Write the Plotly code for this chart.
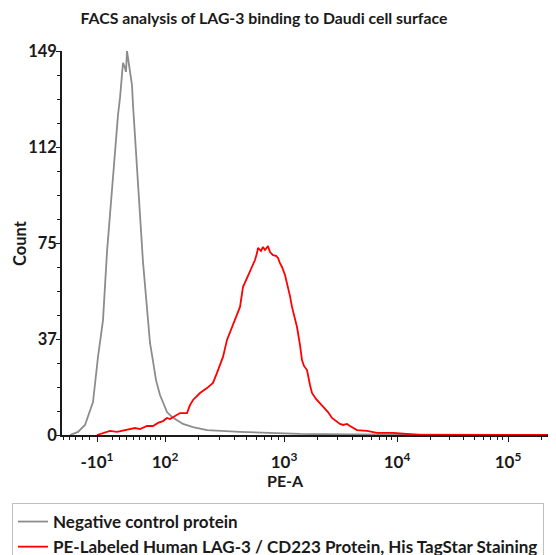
import numpy as np
import plotly.graph_objects as go

# ---- data (display channel on the biexponential PE-A scale, event count) ----
neg_channel = [16, 32, 46, 62, 72, 82, 90, 100, 106, 112, 116, 120, 122, 126, 128, 130,
               132, 134, 136, 140, 142, 146, 152, 156, 162, 168, 172, 176, 182, 188, 196,
               204, 210, 220, 230, 242, 262, 290, 356, 422, 476, 576, 776, 988]
neg_count = [0, 1.2, 3.9, 12.8, 30.3, 44.6, 71.0, 96.2, 109.4, 124.2, 130.8, 140.9, 144.4,
             142.4, 140.9, 149, 146.3, 142.4, 140.5, 135.8, 128.1, 114.5, 97.8, 85.4, 67.1,
             52.4, 43.5, 35.7, 28.7, 21.3, 15.5, 11.3, 8.9, 7.0, 5.8, 4.3, 3.1, 1.9, 1.2,
             0.8, 0.4, 0.2, 0, 0]

pos_channel = [70, 82, 96, 110, 130, 146, 156, 170, 182, 192, 202, 210, 216, 226, 236, 250,
               256, 262, 276, 290, 302, 310, 316, 322, 330, 336, 340, 346, 356, 362, 370,
               376, 380, 386, 390, 392, 398, 402, 406, 412, 416, 422, 428, 432, 436, 440,
               446, 450, 456, 460, 466, 470, 476, 480, 484, 490, 496, 500, 508, 516, 524,
               532, 540, 546, 556, 562, 570, 576, 590, 610, 630, 662, 696, 716, 988]
pos_count = [0, 0.8, 1.6, 1.2, 1.9, 2.7, 2.3, 3.5, 3.5, 4.7, 5.4, 6.6, 6.2, 7.4, 8.5, 8.5,
             11.6, 13.6, 16.3, 18.2, 20.2, 24.1, 27.2, 30.3, 36.9, 40.0, 41.5, 44.6, 49.7,
             57.4, 60.9, 63.3, 65.2, 67.9, 70.6, 72.6, 71.4, 73.0, 71.8, 73.3, 71.0, 69.8,
             69.5, 68.7, 66.7, 65.2, 62.1, 59.0, 53.9, 49.7, 44.6, 41.9, 34.9, 29.1, 26.8,
             25.2, 19.4, 16.3, 14.0, 12.4, 10.5, 8.9, 6.6, 5.8, 4.3, 3.9, 4.3, 3.5, 1.9,
             1.6, 0.8, 0.8, 0.4, 0, 0]

series_names = ["Negative control protein",
                "PE-Labeled Human LAG-3 / CD223 Protein, His TagStar Staining"]

# ---- axis scale: decade anchors of the PE-A biexponential display ----
decade_values = [-10, 100, 1000, 10000, 100000]
decade_channels = [70, 206, 444, 670, 892]
decade_labels = ["-10<sup>1</sup>", "10<sup>2</sup>", "10<sup>3</sup>",
                 "10<sup>4</sup>", "10<sup>5</sup>"]
x_range = [0, 988]

count_max = 149
y_tickvals = [0, 37.25, 74.5, 111.75, 149]
y_ticklabels = ["0", "37", "75", "112", "149"]


def g(v):
    return np.arcsinh(np.asarray(v, dtype=float) / 68.8) / np.log(10)


def to_channel(v):
    gv = g(v)
    ga = g(decade_values)
    ca = np.asarray(decade_channels, dtype=float)
    out = np.interp(gv, ga, ca)
    lo = gv < ga[0]
    hi = gv > ga[-1]
    s0 = (ca[1] - ca[0]) / (ga[1] - ga[0])
    s1 = (ca[-1] - ca[-2]) / (ga[-1] - ga[-2])
    out = np.where(lo, ca[0] + (gv - ga[0]) * s0, out)
    out = np.where(hi, ca[-1] + (gv - ga[-1]) * s1, out)
    return out


minor_values = [-60, -50, -40, -30, -20] + list(range(10, 100, 10))
for d in [100, 1000, 10000, 100000]:
    minor_values += [m * d for m in range(2, 10)]
minor_ch = [float(c) for c in to_channel(minor_values) if x_range[0] <= c <= x_range[1]]

FONT = "Lato"
W, H = 556, 555
OFF = 8  # page body margin offset
fig = go.Figure()
fig.add_trace(go.Scatter(x=neg_channel, y=neg_count, mode="lines", name=series_names[0],
                         line=dict(color="#8c8c8c", width=1.8)))
fig.add_trace(go.Scatter(x=pos_channel, y=pos_count, mode="lines", name=series_names[1],
                         line=dict(color="#ff0000", width=1.8)))

fig.update_layout(
    width=W, height=H,
    margin=dict(l=62 - OFF, r=W - (556 - OFF), t=51 - OFF, b=H - (435 - OFF),
                autoexpand=False),
    paper_bgcolor="white", plot_bgcolor="white",
    font=dict(family=FONT, color="#1a1a1a", size=14),
    title=dict(text="<b>FACS analysis of LAG-3 binding to Daudi cell surface</b>",
               xref="container", yref="container", x=(264 - OFF) / W,
               y=1 - (18 - OFF) / H,
               xanchor="center", yanchor="middle", font=dict(size=15.8, family=FONT)),
    showlegend=True,
    legend=dict(xref="container", yref="container", x=(12 - OFF) / W,
                y=1 - (503 - OFF) / H, xanchor="left", yanchor="top",
                bgcolor="white", bordercolor="#c0c0c0", borderwidth=1,
                font=dict(size=17, family=FONT, weight="bold"), tracegroupgap=0),
)

fig.update_xaxes(range=x_range, showgrid=False, zeroline=False, automargin=False,
                 showline=True, linecolor="#1a1a1a", linewidth=1.5,
                 ticks="outside", ticklen=5, tickwidth=1.2, tickcolor="#1a1a1a",
                 tickmode="array", tickvals=decade_channels, ticktext=decade_labels,
                 tickfont=dict(size=17, family=FONT, weight="bold"), ticklabelstandoff=6,
                 minor=dict(tickmode="array", tickvals=minor_ch, ticks="outside",
                            ticklen=3, tickwidth=1, tickcolor="#1a1a1a"))
fig.update_yaxes(range=[0, count_max], showgrid=False, zeroline=False, automargin=False,
                 showline=True, linecolor="#1a1a1a", linewidth=1.5,
                 ticks="outside", ticklen=4, tickwidth=1.2, tickcolor="#1a1a1a",
                 tickmode="array", tickvals=y_tickvals, ticktext=y_ticklabels,
                 tickfont=dict(size=16.5, family=FONT, weight="bold"), ticklabelstandoff=-4,
                 minor=dict(tickmode="linear", tick0=0, dtick=count_max / 16, ticks="outside",
                            ticklen=3, tickwidth=1, tickcolor="#1a1a1a"))

fig.add_annotation(text="<b>PE-A</b>", xref="paper", yref="paper",
                   x=(285 - 62) / 494, y=(435 - 480) / 384, showarrow=False,
                   xanchor="center", yanchor="middle", font=dict(size=16, family=FONT))
fig.add_annotation(text="<b>Count</b>", xref="paper", yref="paper",
                   x=(20 - 62) / 494, y=0.5, showarrow=False, textangle=-90,
                   xanchor="center", yanchor="middle", font=dict(size=16.5, family=FONT))

fig.write_html("out.html")
